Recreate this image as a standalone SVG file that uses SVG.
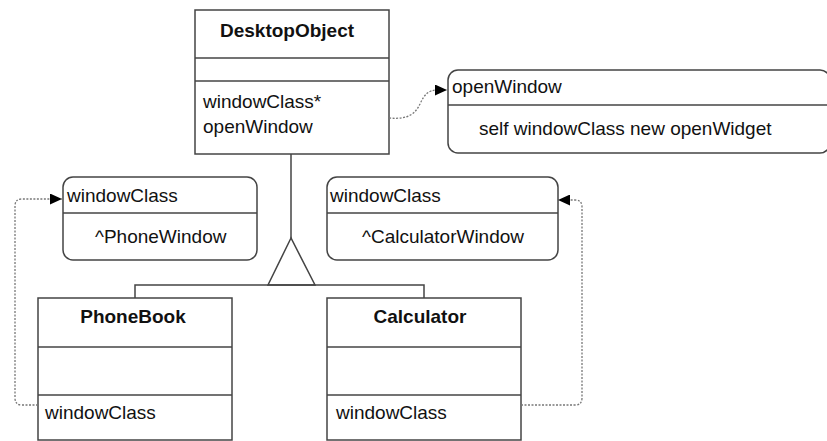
<svg xmlns="http://www.w3.org/2000/svg" width="827" height="441" viewBox="0 0 827 441">
<defs>
<style>
.box{fill:#fff;stroke:#444;stroke-width:1.5}
.ln{stroke:#444;stroke-width:1.5;fill:none}
.t{font-family:"Liberation Sans",Arial,sans-serif;font-size:19px;fill:#111}
.b{font-weight:bold}
.c{text-anchor:middle}
.dash{fill:none;stroke:#777;stroke-width:1.3;stroke-dasharray:2 1.5}
</style>
<marker id="ah" markerUnits="userSpaceOnUse" markerWidth="13" markerHeight="11" refX="12" refY="5.5" orient="auto">
<path d="M0,0 L12,5.5 L0,11 Z" fill="#000"/>
</marker>
</defs>
<rect width="827" height="441" fill="#fff"/>

<g id="DesktopObject">
<rect class="box" x="195" y="10" width="194" height="144"/>
<line class="ln" x1="195" y1="58" x2="389" y2="58"/>
<line class="ln" x1="195" y1="81" x2="389" y2="81"/>
<text class="t b c" x="287" y="37">DesktopObject</text>
<text class="t" x="203" y="108">windowClass*</text>
<text class="t" x="203" y="133">openWindow</text>
</g>

<g id="openWindowNote">
<rect class="box" x="448" y="70" width="382" height="83" rx="10"/>
<line class="ln" x1="448" y1="105" x2="830" y2="105"/>
<text class="t" x="452" y="93">openWindow</text>
<text class="t" x="479" y="135">self windowClass new openWidget</text>
</g>

<g id="PhoneWindowNote">
<rect class="box" x="63" y="177" width="194" height="83" rx="10"/>
<line class="ln" x1="63" y1="213" x2="257" y2="213"/>
<text class="t" x="67" y="202">windowClass</text>
<text class="t" x="95" y="243">^PhoneWindow</text>
</g>

<g id="CalculatorWindowNote">
<rect class="box" x="327" y="177" width="231" height="83" rx="10"/>
<line class="ln" x1="327" y1="213" x2="558" y2="213"/>
<text class="t" x="330" y="202">windowClass</text>
<text class="t" x="362" y="243">^CalculatorWindow</text>
</g>

<g id="PhoneBook">
<rect class="box" x="38" y="298" width="194" height="142"/>
<line class="ln" x1="38" y1="347" x2="232" y2="347"/>
<line class="ln" x1="38" y1="395" x2="232" y2="395"/>
<text class="t b c" x="133" y="323">PhoneBook</text>
<text class="t" x="45" y="419">windowClass</text>
</g>

<g id="Calculator">
<rect class="box" x="327" y="298" width="194" height="142"/>
<line class="ln" x1="327" y1="347" x2="521" y2="347"/>
<line class="ln" x1="327" y1="395" x2="521" y2="395"/>
<text class="t b c" x="420" y="323">Calculator</text>
<text class="t" x="336" y="419">windowClass</text>
</g>

<g id="connectors">
<line class="ln" x1="291" y1="154" x2="291" y2="238"/>
<path class="ln" d="M291,238 L268,285 L315,285 Z" fill="#fff"/>
<path class="ln" d="M135,298 V285 H424 V298"/>
<path class="dash" d="M389,118 C410,120 416,112 420,104 C424,95 428,90 438,90 H447" marker-end="url(#ah)"/>
<path class="dash" d="M38,405 H22 Q15,405 15,398 V206 Q15,199 22,199 H62" marker-end="url(#ah)"/>
<path class="dash" d="M521,405 H575 Q582,405 582,398 V207 Q582,200 575,200 H558" marker-end="url(#ah)"/>
</g>
</svg>
